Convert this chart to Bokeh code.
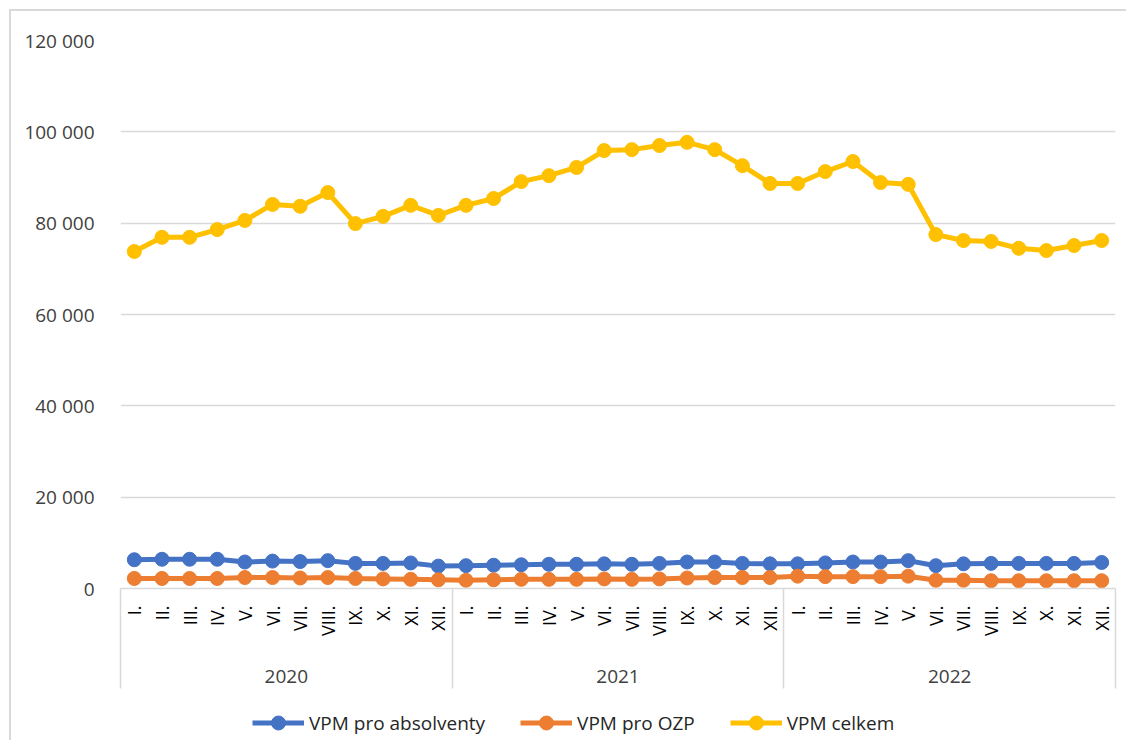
from bokeh.plotting import figure
from bokeh.layouts import column
from bokeh.models import (Range1d, LinearAxis, FixedTicker, Legend, LegendItem)
from bokeh.embed import file_html
from bokeh.resources import INLINE
import numpy as np
import math

months = ["I.", "II.", "III.", "IV.", "V.", "VI.", "VII.", "VIII.", "IX.", "X.", "XI.", "XII."]
years = ["2020", "2021", "2022"]

absolventy = [6300, 6400, 6400, 6400, 5800, 6000, 5900, 6100, 5500, 5500, 5600, 4900,
              5000, 5100, 5200, 5300, 5300, 5400, 5300, 5500, 5800, 5800, 5500, 5400,
              5400, 5600, 5800, 5800, 6100, 5000, 5400, 5500, 5500, 5500, 5500, 5700]
ozp = [2200, 2200, 2200, 2200, 2400, 2400, 2300, 2400, 2200, 2100, 2000, 1900,
       1800, 1900, 2000, 2000, 2000, 2100, 2000, 2100, 2300, 2400, 2400, 2400,
       2700, 2600, 2600, 2600, 2700, 1800, 1800, 1700, 1700, 1700, 1700, 1700]
celkem = [73800, 76900, 76900, 78600, 80600, 84100, 83700, 86700, 79900, 81500, 83900, 81700,
          83900, 85400, 89100, 90400, 92200, 95900, 96100, 97000, 97700, 96100, 92600, 88700,
          88700, 91300, 93500, 88900, 88500, 77500, 76200, 76000, 74500, 74000, 75100, 76200]

series_names = ["VPM pro absolventy", "VPM pro OZP", "VPM celkem"]
series_colors = ["#4472C4", "#ED7D31", "#FFC000"]

y_ticks = [0, 20000, 40000, 60000, 80000, 100000, 120000]
y_tick_labels = ["0", "20 000", "40 000", "60 000", "80 000", "100 000", "120 000"]

FONT = "Open Sans"
TXT = "#404040"
GRID = "#d9d9d9"
LW = 5
MS = 14

n = len(years) * len(months)
xs = list(range(n))

p = figure(width=1115, height=679, output_backend="svg", toolbar_location=None,
           x_range=Range1d(-0.5, n - 0.5), y_range=Range1d(0, 120000),
           x_axis_location=None,
           min_border_left=109, min_border_right=11, min_border_top=29, min_border_bottom=102)
p.outline_line_color = None
p.background_fill_color = "white"
p.border_fill_color = "white"
for g in p.xgrid:
    g.visible = False

# y axis
ya = p.yaxis[0]
ya.ticker = FixedTicker(ticks=y_ticks)
ya.major_label_overrides = {t: l for t, l in zip(y_ticks, y_tick_labels)}
ya.axis_line_color = None
ya.major_tick_line_color = None
ya.minor_tick_line_color = None
ya.major_label_standoff = 20
ya.major_label_text_font = FONT
ya.major_label_text_font_size = "19px"
ya.major_label_text_color = TXT
p.ygrid.ticker = FixedTicker(ticks=y_ticks)
p.ygrid.grid_line_color = GRID
p.ygrid.grid_line_width = 1.5

# month axis (its minor ticks draw the year separators)
bounds = [-0.5 + 12 * i for i in range(len(years) + 1)]
ma = LinearAxis(ticker=FixedTicker(ticks=xs, minor_ticks=bounds))
ma.major_label_overrides = {i: months[i % 12] for i in xs}
ma.major_label_orientation = math.pi / 2
ma.major_tick_line_color = None
ma.major_tick_out = 0
ma.major_tick_in = 0
ma.minor_tick_in = 0
ma.minor_tick_out = 100
ma.minor_tick_line_color = GRID
ma.minor_tick_line_width = 1.5
ma.axis_line_color = GRID
ma.axis_line_width = 1.5
ma.major_label_standoff = -83
ma.major_label_text_font = FONT
ma.major_label_text_font_size = "18px"
ma.major_label_text_color = "#000000"
p.add_layout(ma, "below")

# year axis
yr_ticks = [5.5 + 12 * i for i in range(len(years))]
ya2 = LinearAxis(ticker=FixedTicker(ticks=yr_ticks))
ya2.major_label_overrides = {t: y for t, y in zip(yr_ticks, years)}
ya2.axis_line_color = None
ya2.major_tick_line_color = None
ya2.minor_tick_line_color = None
ya2.major_label_standoff = 24
ya2.major_label_text_font = FONT
ya2.major_label_text_font_size = "19px"
ya2.major_label_text_color = TXT
p.add_layout(ya2, "below")

# legend strip (its frame is aligned with the main plot's frame by the column layout)
p2 = figure(width=1115, height=50, output_backend="svg", toolbar_location=None,
            x_range=Range1d(0, 1), y_range=Range1d(0, 1),
            x_axis_location=None, y_axis_location=None,
            min_border_left=0, min_border_right=0, min_border_top=0, min_border_bottom=0)
p2.outline_line_color = None
p2.xgrid.visible = False
p2.ygrid.visible = False

empty = np.array([np.nan])
items = []
for name, vals, col in zip(series_names, [absolventy, ozp, celkem], series_colors):
    p.line(xs, vals, line_color=col, line_width=LW)
    p.scatter(xs, vals, size=MS, fill_color=col, line_color=col)
    l1 = p2.line(x=empty, y=empty, line_color=col, line_width=LW)
    l2 = p2.scatter(x=empty, y=empty, size=MS, marker="circle", fill_color=col, line_color=col)
    items.append(LegendItem(label=name, renderers=[l1, l2]))

legend = Legend(items=items, orientation="horizontal", location=(132, 0),
                border_line_color=None, background_fill_alpha=0,
                padding=0, margin=0, spacing=35, glyph_width=52, glyph_height=35,
                label_standoff=5, label_text_font=FONT, label_text_font_size="19px",
                label_text_color="#262626")
p2.add_layout(legend)

layout = column(p, p2, spacing=0,
                styles={"margin-left": "9px", "margin-top": "9px",
                        "border-left": "2px solid #d9d9d9", "border-top": "2px solid #d9d9d9"})

open("out.html", "w").write(file_html(layout, INLINE))
